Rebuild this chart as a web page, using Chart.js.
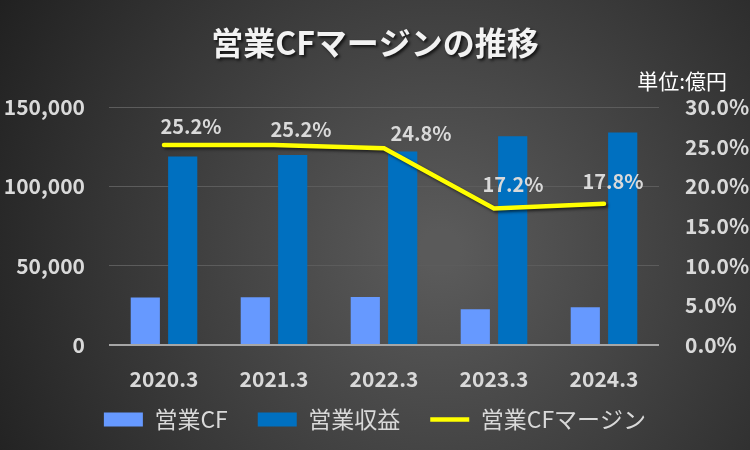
<!DOCTYPE html>
<html>
<head>
<meta charset="utf-8">
<script src="https://cdn.jsdelivr.net/npm/chart.js@4.4.0/dist/chart.umd.min.js"></script>
<style>
  html, body { margin: 0; padding: 0; background: #333; }
  #wrap { width: 750px; height: 450px; }
</style>
</head>
<body>
<div id="wrap"><canvas id="cfchart" width="750" height="450"></canvas></div>
<script>
const years = ['2020.3', '2021.3', '2022.3', '2023.3', '2024.3'];
const opCF = [29900, 30100, 30200, 22600, 23800];
const opRevenue = [118800, 119800, 122000, 131500, 134000];
const cfMargin = [25.2, 25.2, 24.8, 17.2, 17.8];
// hand placed label nudges, like the original
const labelDx = [27, 27, 37, 19, 9];
const labelDy = [-19, -16, -15, -24, -22];

const FONT = "'Noto Sans CJK JP', 'Noto Sans', sans-serif";
const TEXT = '#d9d9d9';

const bgPlugin = {
  id: 'bg',
  afterInit(chart) {
    // legend row sits tight under the axis labels
    const fit = chart.legend.fit;
    chart.legend.fit = function () {
      fit.call(this);
      this.height = 58;
    };
  },
  afterLayout(chart) {
    const lg = chart.legend;
    lg.top = 378;
    lg.bottom = lg.top + lg.height;
  },
  beforeDraw(chart) {
    const ctx = chart.ctx;
    const g = ctx.createRadialGradient(440, 250, 20, 440, 250, 520);
    g.addColorStop(0, '#5a5a5a');
    g.addColorStop(1, '#1f1f1f');
    ctx.save();
    ctx.fillStyle = g;
    ctx.fillRect(0, 0, chart.width, chart.height);
    ctx.restore();
  }
};

const headPlugin = {
  id: 'head',
  afterDraw(chart) {
    const ctx = chart.ctx;
    ctx.save();
    ctx.textBaseline = 'middle';
    ctx.shadowColor = 'rgba(0,0,0,0.7)';
    ctx.shadowOffsetX = 2;
    ctx.shadowOffsetY = 2;
    ctx.shadowBlur = 3;
    ctx.fillStyle = '#f2f2f2';
    ctx.textAlign = 'center';
    ctx.font = 'bold 32px ' + FONT;
    ctx.fillText('営業CFマージンの推移', 375, 43);
    ctx.shadowColor = 'transparent';
    ctx.fillStyle = '#ffffff';
    ctx.font = '21px ' + FONT;
    ctx.textAlign = 'right';
    ctx.fillText('単位:億円', 727, 81);
    ctx.restore();
  }
};

const lineLabels = {
  id: 'lineLabels',
  beforeDatasetDraw(chart, args) {
    if (args.index === 2) {
      const ctx = chart.ctx;
      ctx.save();
      ctx.shadowColor = 'rgba(0,0,0,0.6)';
      ctx.shadowOffsetX = 2;
      ctx.shadowOffsetY = 2;
      ctx.shadowBlur = 3;
    }
  },
  afterDatasetDraw(chart, args) {
    if (args.index !== 2) return;
    const ctx = chart.ctx;
    ctx.restore();
    ctx.save();
    ctx.font = 'bold 20px ' + FONT;
    ctx.fillStyle = TEXT;
    ctx.textAlign = 'center';
    ctx.textBaseline = 'middle';
    args.meta.data.forEach((pt, i) => {
      ctx.fillText(cfMargin[i].toFixed(1) + '%', pt.x + labelDx[i], pt.y + labelDy[i]);
    });
    ctx.restore();
  }
};

new Chart(document.getElementById('cfchart'), {
  type: 'bar',
  data: {
    labels: years,
    datasets: [{
      label: '営業CF',
      data: opCF,
      backgroundColor: '#6699ff',
      yAxisID: 'y',
      order: 1,
      pointStyle: 'rect',
      categoryPercentage: 0.68,
      barPercentage: 0.78
    }, {
      label: '営業収益',
      data: opRevenue,
      backgroundColor: '#0070c0',
      yAxisID: 'y',
      order: 1,
      pointStyle: 'rect',
      categoryPercentage: 0.68,
      barPercentage: 0.78
    }, {
      type: 'line',
      label: '営業CFマージン',
      data: cfMargin,
      borderColor: '#ffff00',
      backgroundColor: '#ffff00',
      borderWidth: 4.5,
      borderCapStyle: 'round',
      pointRadius: 0,
      pointStyle: 'line',
      tension: 0,
      yAxisID: 'y1',
      order: 0
    }]
  },
  options: {
    responsive: false,
    animation: false,
    layout: { padding: { top: 107, left: 0, right: 0, bottom: 0 } },
    plugins: {
      legend: {
        position: 'bottom',
        labels: {
          color: TEXT,
          font: { family: FONT, size: 23 },
          usePointStyle: true,
          pointStyleWidth: 39,
          boxHeight: 14,
          padding: 30,
          sort: (a, b) => a.datasetIndex - b.datasetIndex
        }
      },
      tooltip: { enabled: false }
    },
    scales: {
      x: {
        grid: { display: false, drawTicks: false },
        border: { display: false },
        ticks: { color: TEXT, font: { family: FONT, size: 21, weight: 'bold' }, padding: 21 },
        afterFit: s => { s.height = 47; }
      },
      y: {
        position: 'left',
        min: 0,
        max: 150000,
        ticks: {
          stepSize: 50000,
          color: TEXT,
          font: { family: FONT, size: 21, weight: 'bold' },
          padding: 24,
          callback: v => v.toLocaleString('en-US')
        },
        grid: {
          drawTicks: false,
          color: ctx => ctx.tick && ctx.tick.value === 0 ? '#a6a6a6' : '#5c5c5c',
          lineWidth: ctx => ctx.tick && ctx.tick.value === 0 ? 2 : 1
        },
        border: { display: false },
        afterFit: s => { s.width = 109; }
      },
      y1: {
        position: 'right',
        min: 0,
        max: 30,
        ticks: {
          stepSize: 5,
          color: TEXT,
          font: { family: FONT, size: 21, weight: 'bold' },
          padding: 26,
          callback: v => v.toFixed(1) + '%'
        },
        grid: { display: false, drawTicks: false },
        border: { display: false },
        afterFit: s => { s.width = 91; }
      }
    }
  },
  plugins: [bgPlugin, headPlugin, lineLabels]
});
</script>
</body>
</html>
